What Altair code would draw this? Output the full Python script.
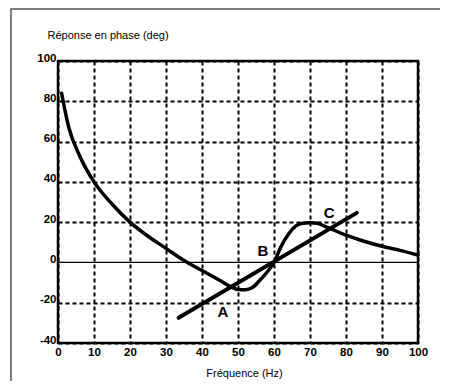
import altair as alt
import pandas as pd

# ---- data ----
freq = [1, 3, 6, 10, 15, 20, 25, 30, 35, 40, 45, 48, 50, 52, 54, 56, 58, 60,
        62, 64, 66, 68, 70, 72, 74, 76, 80, 85, 90, 95, 100]
phase = [84, 67, 53, 40, 29, 20, 13, 7, 1, -4, -9, -12, -13.5, -13.6, -12.5, -9, -5, 0,
         8, 14, 18, 19.5, 19.7, 19.5, 18, 16.5, 13.5, 10.5, 8, 6, 3.7]
fit_freq = [33.5, 83]
fit_phase = [-27.5, 24.6]
label_text = ["A", "B", "C"]
label_freq = [45.8, 56.9, 75.3]
label_phase = [-24.6, 5.7, 24.5]
zero_level = [0]
x_ticks = [0, 10, 20, 30, 40, 50, 60, 70, 80, 90, 100]
y_ticks = [-40, -20, 0, 20, 40, 60, 80, 100]

FONT = "Liberation Sans"

curve_df = pd.DataFrame({"freq": freq, "phase": phase})
fit_df = pd.DataFrame({"freq": fit_freq, "phase": fit_phase})
lab_df = pd.DataFrame({"t": label_text, "freq": label_freq, "phase": label_phase})
zero_df = pd.DataFrame({"phase": zero_level})
frame_df = pd.DataFrame({"k": [0]})

x_scale = alt.Scale(domain=[0, 100], nice=False, zero=False)
y_scale = alt.Scale(domain=[-40, 100], nice=False, zero=False)

x_axis = alt.Axis(
    values=x_ticks, title="Fréquence (Hz)", grid=True, gridDash=[4, 3],
    gridColor="black", gridWidth=2, gridOpacity=1, domain=False, ticks=False,
    tickSize=0, labelFont=FONT, labelFontWeight="bold", labelFontSize=11.5,
    labelColor="black", labelPadding=3, labelFlush=False, labelBaseline="top",
    labelOverlap=False, labelExpr="'' + datum.value",
    titleFont=FONT, titleFontSize=11, titleFontWeight="normal",
    titleColor="black", titleX=186, titleY=33, titleAlign="center",
    titleBaseline="alphabetic",
)
y_axis = alt.Axis(
    values=y_ticks, title="Réponse en phase (deg)", grid=True, gridDash=[4, 3],
    gridColor="black", gridWidth=2,
    gridOpacity=alt.condition("datum.value == 0", alt.value(0), alt.value(1)),
    domain=False, ticks=False, tickSize=0, labelFont=FONT, labelFontWeight="bold",
    labelFontSize=11.5, labelColor="black", labelPadding=2, labelFlush=False,
    labelBaseline="alphabetic", labelAlign="right", labelOverlap=False,
    labelExpr="'' + datum.value",
    titleFont=FONT, titleFontSize=11, titleFontWeight="normal", titleColor="black",
    titleAngle=0, titleX=-11, titleY=-23, titleAlign="left",
    titleBaseline="alphabetic",
)

X = alt.X("freq:Q", scale=x_scale, axis=x_axis)
Y = alt.Y("phase:Q", scale=y_scale, axis=y_axis)

frame = alt.Chart(frame_df).mark_rect(
    fill="transparent", stroke="#555555", strokeWidth=1.5
).encode(
    x=alt.value(-47), x2=alt.value(400), y=alt.value(-52), y2=alt.value(340)
)

zero = alt.Chart(zero_df).mark_rule(color="black", strokeWidth=1.2).encode(y=Y)

fit = alt.Chart(fit_df).mark_line(
    color="black", strokeWidth=4, strokeCap="round"
).encode(x=X, y=Y)

curve = alt.Chart(curve_df).mark_line(
    color="black", strokeWidth=3.5, interpolate="monotone", strokeCap="round",
    strokeJoin="round"
).encode(x=X, y=Y)

labels = alt.Chart(lab_df).mark_text(
    font=FONT, fontWeight="bold", fontSize=15, color="black",
    align="center", baseline="middle"
).encode(x=X, y=Y, text="t:N")

chart = alt.layer(frame, zero, fit, curve, labels).properties(
    width=360, height=282,
    padding={"left": 50, "top": 53, "right": 22, "bottom": 38},
    autosize=alt.AutoSizeParams(type="none"),
    background="white",
).configure_view(stroke="black", strokeWidth=2.5)

chart.save("out.html", embed_options={"renderer": "svg", "actions": False})
